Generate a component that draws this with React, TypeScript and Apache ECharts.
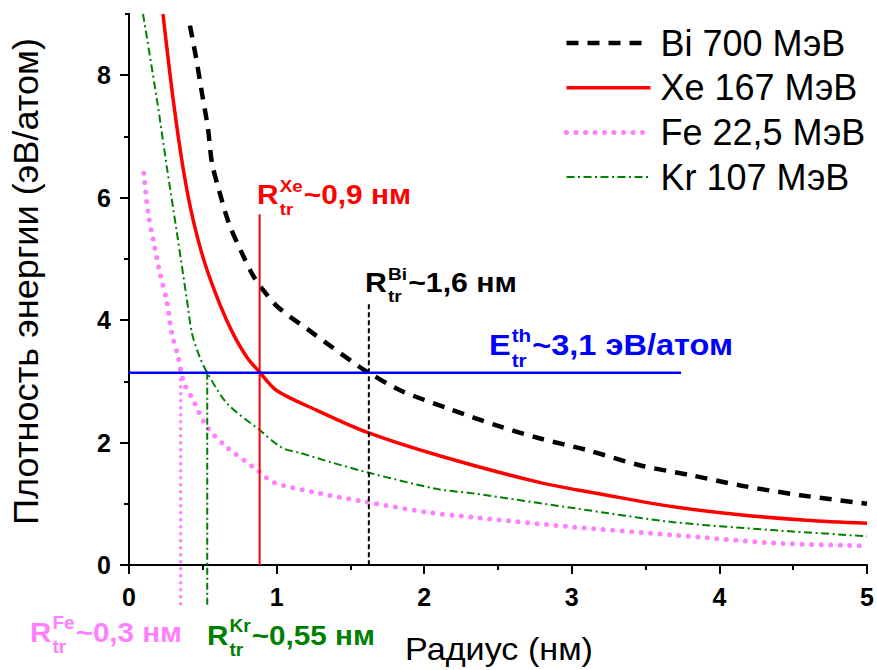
import React, { useEffect, useRef } from "react";
import * as echarts from "echarts";

const FONT = 'Arial, "Liberation Sans", sans-serif';

const RED = "#ff0000";
const BLACK = "#000000";
const PINK = "#ff80ff";
const GREEN = "#008000";
const BLUE = "#0000ff";

// Legend names of the four ion tracks
const seriesNames = ["Bi 700 МэВ", "Xe 167 МэВ", "Fe 22,5 МэВ", "Kr 107 МэВ"];

// Radius (nm) and energy density (eV/atom) for each ion
const biRadius = [0.413, 0.454, 0.495, 0.535, 0.562, 0.61, 0.677, 0.766, 0.84, 0.9, 1.01, 1.25, 1.34, 1.565, 1.625, 1.84, 2.17, 2.49, 2.78, 3.1, 3.46, 3.8, 4.14, 4.55, 5.0];
const biDensity = [8.81, 8.29, 7.7, 7.13, 6.57, 6.12, 5.58, 5.09, 4.73, 4.52, 4.21, 3.78, 3.62, 3.23, 3.14, 2.85, 2.55, 2.28, 2.07, 1.88, 1.63, 1.47, 1.3, 1.14, 1.0];

const xeRadius = [0.23, 0.3, 0.366, 0.434, 0.515, 0.617, 0.705, 0.8, 0.885, 1.0, 1.27, 1.61, 2.11, 2.78, 3.24, 3.69, 4.14, 4.59, 5.0];
const xeDensity = [9.0, 7.59, 6.49, 5.64, 4.92, 4.25, 3.78, 3.39, 3.15, 2.85, 2.53, 2.17, 1.78, 1.35, 1.14, 0.95, 0.82, 0.73, 0.68];

const feRadius = [0.1, 0.13, 0.165, 0.21, 0.255, 0.29, 0.33, 0.37, 0.435, 0.53, 0.66, 0.87, 0.98, 1.29, 1.61, 2.02, 2.33, 3.01, 3.69, 4.36, 5.0];
const feDensity = [6.4, 5.74, 5.3, 4.76, 4.32, 3.78, 3.43, 2.99, 2.69, 2.25, 1.93, 1.55, 1.35, 1.17, 1.03, 0.86, 0.78, 0.62, 0.49, 0.36, 0.31];

const krRadius = [0.095, 0.19, 0.257, 0.325, 0.393, 0.427, 0.48, 0.528, 0.664, 0.887, 1.04, 1.16, 1.38, 1.62, 2.09, 2.33, 3.01, 3.69, 4.36, 5.0];
const krDensity = [9.0, 7.59, 6.49, 5.42, 4.32, 3.78, 3.39, 3.15, 2.64, 2.2, 1.91, 1.83, 1.67, 1.51, 1.24, 1.17, 0.93, 0.7, 0.57, 0.47];

// Track radius markers: x position, upper and lower ends of each drop line
const markerIons = ["Xe", "Bi", "Fe", "Kr"];
const markerRadius = [0.885, 1.625, 0.35, 0.53];
const markerTop = [5.73, 4.26, 3.14, 3.14];
const markerBottom = [0, 0, -0.68, -0.7];

// Threshold energy density line
const thresholdDensity = 3.14;
const thresholdRange = [0, 3.74];

// Axis tick values
const xTicks = [0, 1, 2, 3, 4, 5];
const yMajorTicks = [0, 2, 4, 6, 8];
const yMinorTicks = [1, 3, 5, 7];

const zip = (xs: number[], ys: number[]) => xs.map((x, i) => [x, ys[i]]);

const measureCtx = document.createElement("canvas").getContext("2d") as CanvasRenderingContext2D;
function textWidth(s: string, size: number, weight = "bold") {
  measureCtx.font = `${weight} ${size}px ${FONT}`;
  return measureCtx.measureText(s).width;
}

// Bold label of the form  Main^sup_sub + rest, stretched to span [x0, x1]
function scriptedLabel(
  x0: number,
  x1: number,
  base: number,
  size: number,
  main: string,
  sup: string,
  sub: string,
  rest: string,
  color: string
) {
  const small = Math.round(size * 0.63);
  const wMain = textWidth(main, size);
  const wScript = Math.max(textWidth(sup, small), textWidth(sub, small));
  const wRest = textWidth(rest, size);
  const natural = wMain + 2 + wScript + wRest;
  const mk = (t: string, tx: number, dy: number, s: number) => ({
    type: "text",
    x: tx,
    y: dy - 0.35 * s,
    silent: true,
    style: {
      text: t,
      fontSize: s,
      fontWeight: "bold",
      fontFamily: FONT,
      fill: color,
      align: "left",
      verticalAlign: "middle",
    },
  });
  return {
    type: "group",
    x: x0,
    y: base,
    scaleX: (x1 - x0) / natural,
    children: [
      mk(main, 0, 0, size),
      mk(sup, wMain + 1, -0.45 * size, small),
      mk(sub, wMain + 1, 0.4 * size, small),
      mk(rest, wMain + 2 + wScript, 0, size),
    ],
  };
}

// Plain axis title stretched to a given length, optionally rotated
function axisTitle(text: string, cx: number, cy: number, size: number, length: number, rotation: number) {
  const natural = textWidth(text, size, "normal");
  return {
    type: "group",
    x: cx,
    y: cy,
    rotation,
    scaleX: length / natural,
    children: [
      {
        type: "text",
        x: 0,
        y: 0,
        silent: true,
        style: {
          text,
          fontSize: size,
          fontFamily: FONT,
          fill: BLACK,
          align: "center",
          verticalAlign: "middle",
        },
      },
    ],
  };
}

const markerStyles: Record<string, any> = {
  Xe: { color: RED, width: 2, type: "solid" },
  Bi: { color: BLACK, width: 2, type: [5, 3] },
  Fe: { color: PINK, width: 3.5, type: [0, 7], cap: "round" },
  Kr: { color: GREEN, width: 2, type: [7, 3, 2, 3] },
};

const curveStyles = [
  { color: BLACK, width: 4.5, type: [12, 9] },
  { color: RED, width: 3.5, type: "solid" },
  { color: PINK, width: 5, type: [0, 9.5], cap: "round" },
  { color: GREEN, width: 2, type: [8, 3.5, 2, 3.5] },
];

export default function App() {
  const ref = useRef<HTMLDivElement>(null);

  useEffect(() => {
    if (!ref.current) return;
    const chart = echarts.init(ref.current, undefined, { renderer: "svg" });

    const axisLine = { show: true, lineStyle: { color: BLACK, width: 2 } };
    const gridBox = { left: 129, right: 10, top: 14, bottom: 105, outerBoundsMode: "none" };
    const tickLabel = { fontSize: 25, fontWeight: "bold", fontFamily: FONT, color: BLACK };

    const curve = (name: string, data: number[][], lineStyle: any) => ({
      name,
      type: "line",
      data,
      xAxisIndex: 0,
      yAxisIndex: 0,
      symbol: "none",
      smooth: 0.3,
      lineStyle,
      itemStyle: { color: lineStyle.color },
      z: 3,
    });

    const series: any[] = [
      curve(seriesNames[0], zip(biRadius, biDensity), curveStyles[0]),
      curve(seriesNames[1], zip(xeRadius, xeDensity), curveStyles[1]),
      curve(seriesNames[2], zip(feRadius, feDensity), curveStyles[2]),
      curve(seriesNames[3], zip(krRadius, krDensity), curveStyles[3]),
    ];

    markerIons.forEach((ion, i) => {
      series.push({
        name: "R " + ion,
        type: "line",
        data: [
          [markerRadius[i], markerTop[i]],
          [markerRadius[i], markerBottom[i]],
        ],
        xAxisIndex: 0,
        yAxisIndex: 0,
        symbol: "none",
        clip: false,
        lineStyle: markerStyles[ion],
        z: 4,
      });
    });

    series.push({
      name: "E threshold",
      type: "line",
      data: [
        [thresholdRange[0], thresholdDensity],
        [thresholdRange[1], thresholdDensity],
      ],
      xAxisIndex: 0,
      yAxisIndex: 0,
      symbol: "none",
      lineStyle: { color: BLUE, width: 2.5 },
      z: 4,
    });

    const graphic: any[] = [
      axisTitle("Плотность энергии (эВ/атом)", 26, 281.5, 36, 487, Math.PI / 2),
      axisTitle("Радиус (нм)", 499, 660 - 0.35 * 31, 31, 188, 0),
      scriptedLabel(257, 411, 204, 27, "R", "Xe", "tr", "~0,9 нм", RED),
      scriptedLabel(365, 517, 292, 27, "R", "Bi", "tr", "~1,6 нм", BLACK),
      scriptedLabel(489, 733, 355, 30, "E", "th", "tr", "~3,1 эВ/атом", BLUE),
      scriptedLabel(30, 182, 642, 28, "R", "Fe", "tr", "~0,3 нм", PINK),
      scriptedLabel(207, 375, 645, 28, "R", "Kr", "tr", "~0,55 нм", GREEN),
    ];

    chart.setOption({
      animation: false,
      backgroundColor: "#ffffff",
      grid: [gridBox, gridBox],
      legend: {
        data: seriesNames.map((name, i) => ({ name, lineStyle: { ...curveStyles[i] } })),
        orient: "vertical",
        left: 564,
        top: 25,
        padding: 0,
        itemWidth: 84,
        itemHeight: 14,
        itemGap: 8.7,
        selectedMode: false,
        itemStyle: { color: "rgba(0,0,0,0)", borderColor: "rgba(0,0,0,0)", borderWidth: 0 },
        textStyle: {
          fontSize: 36,
          fontFamily: FONT,
          color: BLACK,
          lineHeight: 36,
          padding: [0, 0, 0, 5],
        },
      },
      xAxis: [
        {
          type: "value",
          gridIndex: 0,
          position: "bottom",
          min: 0,
          max: 5,
          interval: 1,
          axisLine,
          axisTick: { show: true, length: 9, lineStyle: { color: BLACK, width: 2 } },
          minorTick: { show: true, splitNumber: 2, length: 5, lineStyle: { color: BLACK, width: 2 } },
          axisLabel: { customValues: xTicks, margin: 19, ...tickLabel },
          splitLine: { show: false },
        },
        {
          type: "value",
          gridIndex: 0,
          position: "top",
          min: 0,
          max: 5,
          interval: 0.5,
          axisLine,
          axisTick: { show: true, inside: true, length: 4, lineStyle: { color: BLACK, width: 2 } },
          axisLabel: { show: false },
          splitLine: { show: false },
        },
        {
          type: "value",
          gridIndex: 1,
          min: 0,
          max: 5,
          show: false,
        },
      ],
      yAxis: [
        {
          type: "value",
          gridIndex: 0,
          position: "left",
          min: 0,
          max: 9,
          axisLine,
          axisTick: { show: true, length: 9, customValues: yMajorTicks, lineStyle: { color: BLACK, width: 2 } },
          axisLabel: { customValues: yMajorTicks, margin: 18, ...tickLabel },
          splitLine: { show: false },
        },
        {
          type: "value",
          gridIndex: 0,
          position: "right",
          min: 0,
          max: 9,
          interval: 1,
          axisLine,
          axisTick: { show: true, inside: true, length: 4, lineStyle: { color: BLACK, width: 2 } },
          axisLabel: { show: false },
          splitLine: { show: false },
        },
        {
          type: "value",
          gridIndex: 1,
          position: "left",
          min: 0,
          max: 9,
          axisLine: { show: false },
          axisTick: { show: true, length: 5, customValues: yMinorTicks, lineStyle: { color: BLACK, width: 2 } },
          axisLabel: { show: false },
          splitLine: { show: false },
        },
      ],
      series,
      graphic,
    });

    return () => chart.dispose();
  }, []);

  return (
    <div
      ref={ref}
      style={{ position: "fixed", left: 0, top: 0, width: 877, height: 670, background: "#fff" }}
    />
  );
}
